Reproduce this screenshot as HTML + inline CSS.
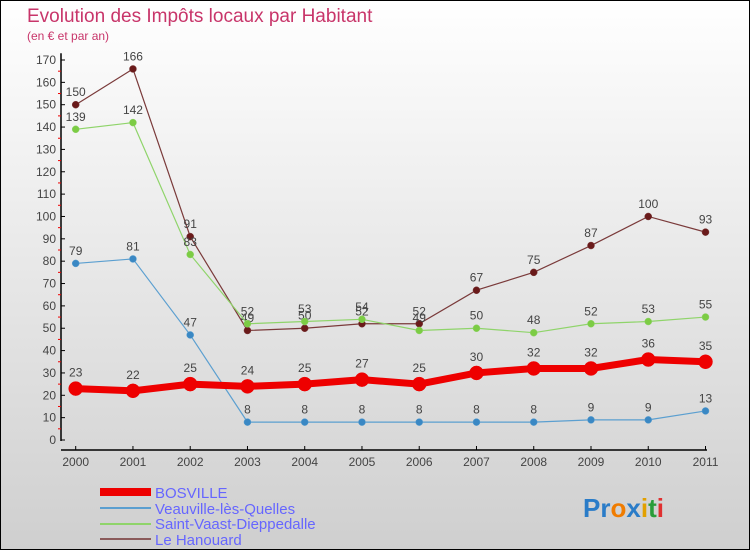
<!DOCTYPE html>
<html><head><meta charset="utf-8"><style>
body{margin:0;}
#c{width:750px;height:550px;position:relative;overflow:hidden;font-family:"Liberation Sans",sans-serif;}
</style></head><body>
<div id="c">
<svg id="s" width="750" height="550" xmlns="http://www.w3.org/2000/svg">
<defs><linearGradient id="bg" x1="0" y1="0" x2="0" y2="1"><stop offset="0" stop-color="#ffffff"/><stop offset="1" stop-color="#cfcfcf"/></linearGradient></defs>
<rect x="0.5" y="0.5" width="749" height="549" fill="url(#bg)" stroke="#000"/>
<text x="27" y="22" font-size="19" fill="#c8356a">Evolution des Impôts locaux par Habitant</text>
<text x="27" y="40" font-size="12" fill="#c8356a">(en € et par an)</text>
<g id="axes"></g><g id="series"></g>
<g>
<rect x="100" y="488" width="51" height="8" fill="#e00"/>
<text x="155" y="498" font-size="15" fill="#6666ff">BOSVILLE</text>
<line x1="100" y1="508" x2="151" y2="508" stroke="#5b9fd0" stroke-width="2"/>
<text x="155" y="514" font-size="15" fill="#6666ff">Veauville-lès-Quelles</text>
<line x1="100" y1="524" x2="151" y2="524" stroke="#8fd46a" stroke-width="2"/>
<text x="155" y="529" font-size="15" fill="#6666ff">Saint-Vaast-Dieppedalle</text>
<line x1="100" y1="539" x2="151" y2="539" stroke="#8a5a5a" stroke-width="2"/>
<text x="155" y="545" font-size="15" fill="#6666ff">Le Hanouard</text>
</g>
<text x="583" y="517" font-size="26" font-weight="bold"><tspan fill="#2a7cc8">Pr</tspan><tspan fill="#f07c00">o</tspan><tspan fill="#2a7cc8">x</tspan><tspan fill="#e2a000">i</tspan><tspan fill="#2a9c3a">t</tspan><tspan fill="#e03030">i</tspan></text>
</svg></div>
<script>
const years=[2000,2001,2002,2003,2004,2005,2006,2007,2008,2009,2010,2011];
const bosville=[23,22,25,24,25,27,25,30,32,32,36,35];
const veauville=[79,81,47,8,8,8,8,8,8,9,9,13];
const saintVaast=[139,142,83,52,53,54,49,50,48,52,53,55];
const hanouard=[150,166,91,49,50,52,52,67,75,87,100,93];
const yTicks=[0,10,20,30,40,50,60,70,80,90,100,110,120,130,140,150,160,170];
const NS="http://www.w3.org/2000/svg";
const X=i=>75.7+i*(705.5-75.7)/(years.length-1);
const Y=v=>440-v*(380/170);
function mk(t,a,p){const e=document.createElementNS(NS,t);for(const k in a)e.setAttribute(k,a[k]);p.appendChild(e);return e;}
const ax=document.getElementById('axes');
let l=mk('line',{x1:61,y1:Y(173),x2:61,y2:441,stroke:'#000','stroke-width':1.5},ax);


l=mk('line',{x1:61,y1:450,x2:707,y2:450,stroke:'#000','stroke-width':1.5},ax);


yTicks.forEach(v=>{
 mk('line',{x1:61,y1:Y(v),x2:65,y2:Y(v),stroke:'#000'},ax);
 if(v<170) mk('line',{x1:58,y1:Y(v+5),x2:61,y2:Y(v+5),stroke:'#e00'},ax);
 const t=mk('text',{x:56,y:Y(v)+4,'font-size':12,fill:'#444','text-anchor':'end'},ax);t.textContent=v;
 
 
});
years.forEach((yr,i)=>{
 mk('line',{x1:X(i),y1:446,x2:X(i),y2:450,stroke:'#000'},ax);
 const t=mk('text',{x:X(i),y:466,'font-size':12,fill:'#444','text-anchor':'middle'},ax);t.textContent=yr;
 
 
});
const sg=document.getElementById('series');
function draw(data,name,color,w,r,dot){
 const g=mk('g',{},sg);
 
 
 mk('polyline',{points:data.map((v,i)=>X(i)+','+Y(v)).join(' '),fill:'none',stroke:color,'stroke-width':w},g);
 data.forEach((v,i)=>{
  const c=mk('circle',{cx:X(i),cy:Y(v),r:r,fill:dot,stroke:color,'stroke-width':0.5},g);
  
  
  const t=mk('text',{x:X(i),y:Y(v)-r-5,'font-size':12,fill:'#444','text-anchor':'middle'},g);t.textContent=v;
  
  
 });
}
draw(hanouard,'le-hanouard','#7a3a3a',1.2,3.5,'#6a1a1a');
draw(saintVaast,'saint-vaast','#8fd46a',1.2,3.5,'#7ccc44');
draw(veauville,'veauville','#5b9fd0',1.2,3.5,'#3a88c4');
draw(bosville,'bosville','#e00',7,7,'#e00');
</script>
</body></html>
